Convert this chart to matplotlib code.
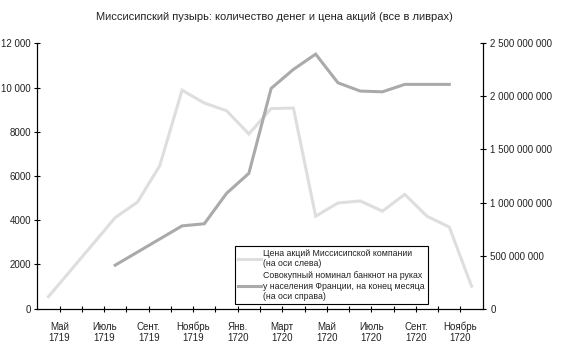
import matplotlib.pyplot as plt
import matplotlib.ticker as mticker
import numpy as np

# months from Apr 1719 (index 0) to Nov 1720 (index 19); points sit mid-month
month_idx = np.arange(20)

price = [540, np.nan, np.nan, 4120, 4820, 6470, 9880, 9300, 8950, 7900,
         9050, 9070, 4180, 4780, 4870, 4410, 5170, 4180, 3690, 1020]

money = [np.nan, np.nan, np.nan, 0.41e9, np.nan, np.nan, 0.78e9, 0.80e9, 1.087e9, 1.275e9,
         2.075e9, 2.254e9, 2.398e9, 2.128e9, 2.05e9, 2.043e9, 2.113e9, 2.113e9, 2.113e9, np.nan]

tick_labels = ["Май\n1719", "Июль\n1719", "Сент.\n1719", "Ноябрь\n1719", "Янв.\n1720",
               "Март\n1720", "Май\n1720", "Июль\n1720", "Сент.\n1720", "Ноябрь\n1720"]

title = "Миссисипский пузырь: количество денег и цена акций (все в ливрах)"
label_price = "Цена акций Миссисипской компании\n(на оси слева)"
label_money = ("Совокупный номинал банкнот на руках\n"
               "у населения Франции, на конец месяца\n(на оси справа)")

plt.rcParams['font.family'] = ['Liberation Sans', 'DejaVu Sans']
plt.rcParams['font.size'] = 7
TXT = '#222222'


def space_fmt(v, pos):
    v = int(round(v))
    if v < 10000:
        return str(v)
    return f"{v:,}".replace(",", " ")


def main():
    fig = plt.figure(figsize=(5.73, 3.54), dpi=100)
    ax = fig.add_axes([0.0651, 0.128, 0.7773, 0.7497])
    ax2 = ax.twinx()

    p = np.array(price, dtype=float)
    m = np.array(money, dtype=float)
    ok_p = ~np.isnan(p)
    ok_m = ~np.isnan(m)
    l1, = ax.plot(month_idx[ok_p] + 0.5, p[ok_p], color='#dedede', lw=2.2,
                  solid_joinstyle='miter', zorder=2)
    l2, = ax2.plot(month_idx[ok_m] + 0.5, m[ok_m], color='#aaaaaa', lw=2.2,
                   solid_joinstyle='miter', zorder=2)

    ax.set_xlim(0, 20)
    ax.set_ylim(0, 12000)
    ax2.set_ylim(0, 2.5e9)

    ax.set_yticks(np.arange(0, 12001, 2000))
    ax.yaxis.set_major_formatter(mticker.FuncFormatter(space_fmt))
    ax2.set_yticks(np.arange(0, 2.5e9 + 1, 5e8))
    ax2.yaxis.set_major_formatter(mticker.FuncFormatter(space_fmt))

    ticks = np.arange(1, 20)
    ax.set_xticks(ticks)
    ax.set_xticklabels([tick_labels[i // 2] if i % 2 == 0 else "" for i in range(len(ticks))],
                       linespacing=1.1)

    for a in (ax, ax2):
        a.spines['top'].set_visible(False)
        for s in a.spines.values():
            s.set_linewidth(0.8)
        a.tick_params(direction='inout', length=5, width=0.8, colors='black',
                      labelcolor=TXT, labelsize=7)
    ax.tick_params(axis='x', pad=7)
    ax.tick_params(axis='y', pad=2)
    ax2.tick_params(axis='y', pad=3)

    leg = ax.legend([l1, l2], [label_price, label_money], loc='lower left',
                    bbox_to_anchor=(0.444, 0.019), borderaxespad=0, fancybox=False,
                    edgecolor='black', framealpha=1, fontsize=6.3, handlelength=2.6,
                    handletextpad=0.3, borderpad=0.35, labelspacing=0.35)
    leg.get_frame().set_linewidth(0.8)
    for t in leg.get_texts():
        t.set_color(TXT)
        t.set_linespacing(1.15)

    fig.text(274 / 573, 1 - 17 / 354, title, ha='center', va='center',
             fontsize=8, color=TXT)

    fig.savefig("out.png", dpi=100)


if __name__ == "__main__":
    main()
